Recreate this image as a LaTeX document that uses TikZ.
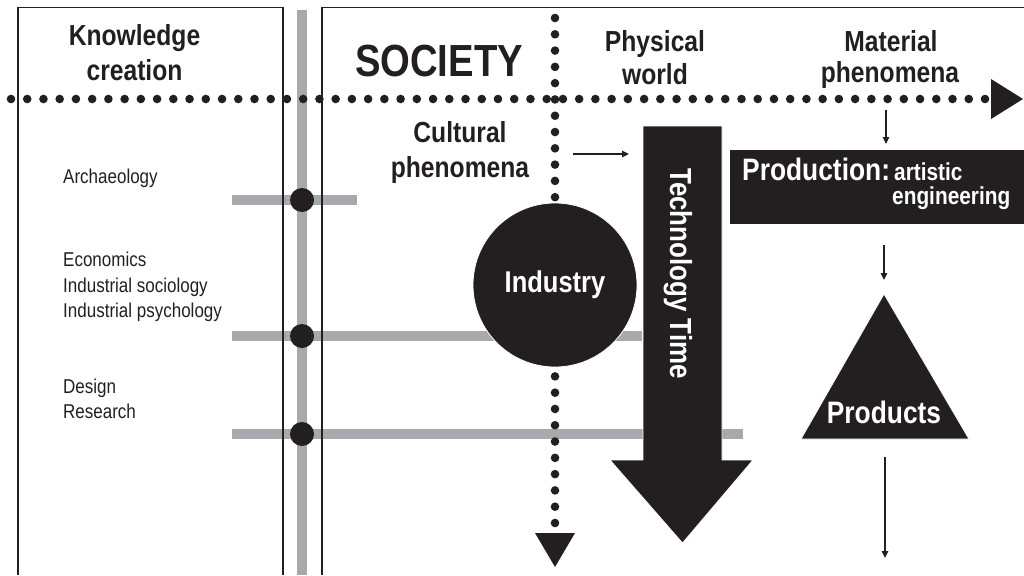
\documentclass[tikz,border=0pt]{standalone}
\usepackage{fontspec}
\setmainfont{Liberation Sans}[FakeStretch=0.85]
\usetikzlibrary{arrows.meta}
\definecolor{ink}{HTML}{231F20}
\definecolor{barcol}{HTML}{A7A9AC}

\begin{document}
\begin{tikzpicture}[x=1pt,y=-1pt,
  frame/.style={draw=ink, line width=1.2pt},
  greybar/.style={draw=barcol, line width=10.5pt},
  joint/.style={circle, fill=ink, minimum size=24pt, inner sep=0pt},
  head/.style={font=\fontsize{29}{34}\selectfont\bfseries, text=ink, anchor=base, inner sep=0pt},
  field/.style={font=\fontsize{20}{24}\selectfont, text=ink, anchor=base west, inner sep=0pt},
  bigwhite/.style={font=\fontsize{31}{36}\selectfont\bfseries, text=white, inner sep=0pt},
  smallwhite/.style={font=\fontsize{24.5}{28}\selectfont\bfseries, text=white, inner sep=0pt, anchor=base west},
  thinarrow/.style={draw=ink, line width=1.3pt, -{Triangle[length=7pt,width=6.5pt]}},
  blackshape/.style={fill=ink, draw=white, line width=0.8pt},
]
\useasboundingbox (0,0) rectangle (1024,575);

% grey axes of the knowledge fields
\draw[greybar] (232,200) -- (357,200);
\draw[greybar] (232,336) -- (642,336);
\draw[greybar] (232,434) -- (743,434);
\draw[greybar] (302,10) -- (302,575);

% the two frames
\draw[frame] (18,575) -- (18,7.5) -- (283,7.5) -- (283,575);
\draw[frame] (322,575) -- (322,7.5) -- (1024,7.5);

% joints on the vertical axis
\node[joint] (j1) at (302,200) {};
\node[joint] (j2) at (302,336) {};
\node[joint] (j3) at (302,434) {};

% dotted horizontal axis with its arrowhead
\foreach \i in {0,...,60}
  \fill[ink] ({11+\i*16.233},99) circle (4.3pt);
\fill[ink] (991,79) -- (1023,99) -- (991,119) -- cycle;

% dotted vertical axis with its arrowhead
\foreach \i in {0,...,31}
  \fill[ink] (555,{18+\i*16.29}) circle (4.3pt);
\fill[ink] (535,533) -- (575,533) -- (555,567) -- cycle;

% industry
\node[circle, blackshape, minimum size=164pt, inner sep=0pt, bigwhite,
      font=\fontsize{30}{36}\selectfont\bfseries] (industry) at (555,285) {Industry};

% technology time arrow
\path[blackshape] (643,126) -- (722,126) -- (722,460) -- (753,460)
  -- (682.5,543) -- (610,460) -- (643,460) -- cycle;
\node[bigwhite, font=\fontsize{30.5}{36}\selectfont\bfseries, rotate=-90, anchor=base]
  (tech) at (670,273.5) {Technology Time};

% production box
\node[blackshape, anchor=north west, minimum width=296pt, minimum height=75pt,
      inner sep=0pt] (prodbox) at (729,149) {};
\node[bigwhite, anchor=base west] (prod) at (742,180) {Production:};
\node[smallwhite] (artistic) at (894,180) {artistic};
\node[smallwhite] (engin) at (892,204) {engineering};

% products triangle
\path[blackshape] (884,294) -- (969,439) -- (801,439) -- cycle;
\node[bigwhite, anchor=base] (products) at (884,423) {Products};

% headings
\node[head] (know) at (134.5,45.5) {Knowledge};
\node[head] (creation) at (134.5,81) {creation};
\node[head, font=\fontsize{45}{50}\selectfont\bfseries] (society) at (439,77) {SOCIETY};
\node[head] (physical) at (655,52) {Physical};
\node[head] (world) at (655,85) {world};
\node[head] (material) at (891,52) {Material};
\node[head] (matphen) at (890,83) {phenomena};
\node[head] (cultural) at (460,142) {Cultural};
\node[head] (culphen) at (460,177) {phenomena};

% knowledge fields
\node[field] (arch) at (63,183) {Archaeology};
\node[field] (econ) at (63,266) {Economics};
\node[field] (isoc) at (63,292) {Industrial sociology};
\node[field] (ipsy) at (63,317) {Industrial psychology};
\node[field] (design) at (63,393) {Design};
\node[field] (research) at (63,418) {Research};

% thin arrows
\coordinate (culA) at (573,154);
\coordinate (culB) at (629,154);
\coordinate (matA) at (886,110);
\coordinate (matB) at (886,144);
\coordinate (prA) at (884,245);
\coordinate (prB) at (884,280);
\coordinate (pdA) at (885,457);
\coordinate (pdB) at (885,558);
\draw[thinarrow] (culA) -- (culB);
\draw[thinarrow] (matA) -- (matB);
\draw[thinarrow] (prA) -- (prB);
\draw[thinarrow] (pdA) -- (pdB);
\end{tikzpicture}
\end{document}
